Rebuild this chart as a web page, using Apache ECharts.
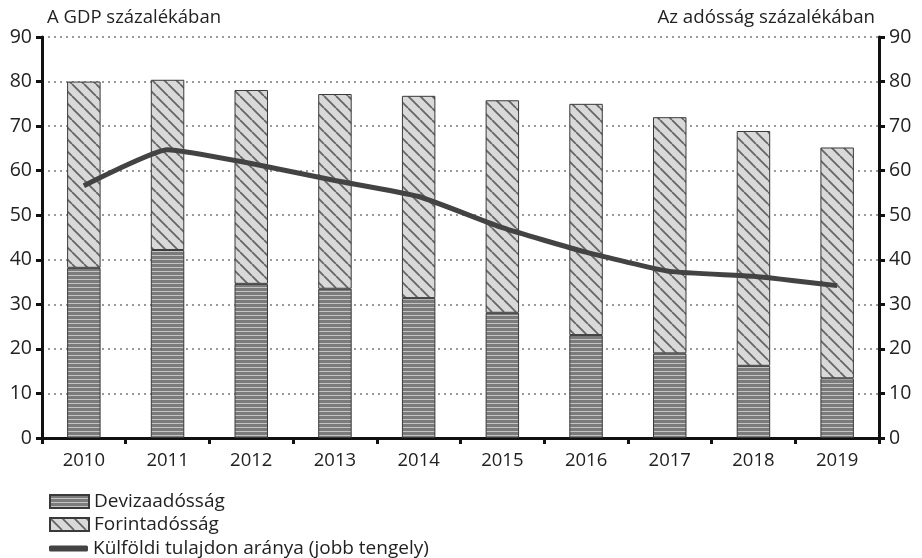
<!DOCTYPE html>
<html>
<head>
<meta charset="utf-8">
<script src="https://cdn.jsdelivr.net/npm/echarts@6/dist/echarts.min.js"></script>
<style>
html,body{margin:0;padding:0;background:#fff;}
#chart{width:922px;height:558px;}
</style>
</head>
<body>
<div id="chart"></div>
<script>
// ---- data ----
var categories = ['2010','2011','2012','2013','2014','2015','2016','2017','2018','2019'];
var devizaTotal = [38.2, 42.2, 34.6, 33.5, 31.4, 28.1, 23.1, 19.0, 16.2, 13.4];
var totalDebt   = [80.0, 80.4, 78.1, 77.2, 76.8, 75.8, 75.0, 72.0, 68.9, 65.2];
var forint = totalDebt.map(function(t, i){ return +(t - devizaTotal[i]).toFixed(1); });
var kulfoldi = [56.6, 64.7, 61.6, 57.8, 54.2, 47.2, 41.7, 37.4, 36.3, 34.2];
var yTicks = [0,10,20,30,40,50,60,70,80,90];

var NAME_DEV = 'Devizaadósság';
var NAME_FOR = 'Forintadósság';
var NAME_KUL = 'Külföldi tulajdon aránya (jobb tengely)';

// ---- patterns ----
function stripePattern(){
  var c = document.createElement('canvas');
  c.width = 8; c.height = 4;
  var g = c.getContext('2d');
  g.fillStyle = '#7b7b7b'; g.fillRect(0,0,8,4);
  g.fillStyle = '#c4c4c4'; g.fillRect(0,3,8,1);
  return c;
}
function diagPattern(){
  var s = 12;
  var c = document.createElement('canvas');
  c.width = s; c.height = s;
  var g = c.getContext('2d');
  g.fillStyle = '#d9d9d9'; g.fillRect(0,0,s,s);
  g.strokeStyle = '#666666'; g.lineWidth = 1.8;
  g.beginPath();
  for (var k = -1; k <= 1; k++) {
    g.moveTo(k*s, 0); g.lineTo(k*s + s, s);
  }
  g.stroke();
  return c;
}

var FONT = 'Open Sans';
var legendText = {fontFamily: FONT, fontSize: 19, color: '#222'};
function mkLegend(name, top, extra){
  var l = {
    orient: 'vertical', left: 44, top: top, itemGap: 0,
    itemWidth: 39, itemHeight: 13,
    textStyle: legendText,
    data: [{name: name, icon: 'rect'}]
  };
  for (var k in extra) l[k] = extra[k];
  return l;
}

var chart = echarts.init(document.getElementById('chart'), null, {renderer:'canvas'});
var option = {
  backgroundColor: '#ffffff',
  animation: false,
  textStyle: {fontFamily: FONT, color: '#222'},
  title: [
    {text: 'A GDP százalékában', left: 42, top: 3, textStyle: {fontFamily: FONT, fontSize: 18.5, fontWeight: 'normal', color: '#222'}},
    {text: 'Az adósság százalékában', right: 42, top: 3, textStyle: {fontFamily: FONT, fontSize: 18.7, fontWeight: 'normal', color: '#222'}}
  ],
  grid: {left: 42, right: 43, top: 37, bottom: 120, containLabel: false},
  legend: [
    mkLegend(NAME_DEV, 487),
    mkLegend(NAME_FOR, 510),
    mkLegend(NAME_KUL, 534, {
      itemHeight: 6,
      data: [{name: NAME_KUL, icon: 'roundRect', itemStyle: {color: '#434343'}}]
    })
  ],
  xAxis: {
    type: 'category', data: categories, boundaryGap: true,
    axisLine: {lineStyle: {color: '#111', width: 3}},
    axisTick: {show: true, alignWithLabel: false, length: 6, lineStyle: {color: '#111', width: 3}},
    axisLabel: {fontFamily: FONT, fontSize: 18.5, color: '#222', margin: 13}
  },
  yAxis: [
    {
      type: 'value', min: 0, max: 90, interval: 10, position: 'left',
      axisLine: {show: true, lineStyle: {color: '#111', width: 3}},
      axisTick: {show: true, length: 6, lineStyle: {color: '#111', width: 3}},
      axisLabel: {fontFamily: FONT, fontSize: 19.5, color: '#222', margin: 10},
      splitLine: {show: true, lineStyle: {color: '#7a7a7a', type: [2,4], width: 1.5}}
    },
    {
      type: 'value', min: 0, max: 90, interval: 10, position: 'right',
      axisLine: {show: true, lineStyle: {color: '#111', width: 3}},
      axisTick: {show: true, length: 6, lineStyle: {color: '#111', width: 3}},
      axisLabel: {fontFamily: FONT, fontSize: 19.5, color: '#222', margin: 10},
      splitLine: {show: false}
    }
  ],
  series: [
    {
      name: NAME_DEV, type: 'bar', stack: 'debt', data: devizaTotal,
      barWidth: '40%',
      itemStyle: {color: {image: stripePattern(), repeat: 'repeat'}, borderColor: '#3a3a3a', borderWidth: 1}
    },
    {
      name: NAME_FOR, type: 'bar', stack: 'debt', data: forint,
      barWidth: '40%',
      itemStyle: {color: {image: diagPattern(), repeat: 'repeat'}, borderColor: '#3a3a3a', borderWidth: 1}
    },
    {
      name: NAME_KUL, type: 'line', yAxisIndex: 1,
      data: kulfoldi, symbol: 'none', smooth: 0.15,
      lineStyle: {color: '#434343', width: 5},
      itemStyle: {color: '#434343'}
    }
  ]
};
chart.setOption(option);
</script>
</body>
</html>
